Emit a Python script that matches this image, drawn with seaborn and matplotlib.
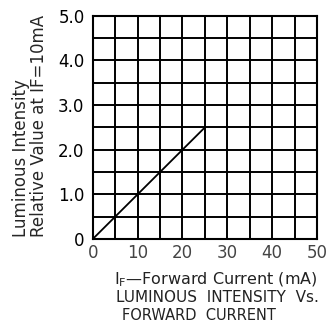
import matplotlib
matplotlib.use("Agg")
import matplotlib.pyplot as plt
import seaborn as sns
import pandas as pd
import numpy as np

# Data
current_ma = [0, 25]
rel_intensity = [0.0, 2.5]
x_ticks = [0, 10, 20, 30, 40, 50]
x_tick_labels = ["0", "10", "20", "30", "40", "50"]
y_ticks = [0, 1, 2, 3, 4, 5]
y_tick_labels = ["0", "1.0", "2.0", "3.0", "4.0", "5.0"]

df = pd.DataFrame({"current": current_ma, "intensity": rel_intensity})

sns.set_style("white")
plt.rcParams['font.family'] = ['DejaVu Sans']

fig = plt.figure(figsize=(3.34, 3.30), dpi=100)
ax = fig.add_axes([0.278, 0.276, 0.671, 0.676])

sns.lineplot(data=df, x="current", y="intensity", ax=ax, color="black", linewidth=1.3)

ax.set_xlim(0, 50)
ax.set_ylim(0, 5)
ax.set_xticks(x_ticks)
ax.set_xticklabels(x_tick_labels)
ax.set_yticks(y_ticks)
ax.set_yticklabels(y_tick_labels)
ax.set_xticks(np.arange(5, 50, 10), minor=True)
ax.set_yticks(np.arange(0.5, 5, 1.0), minor=True)
ax.grid(True, which="both", color="black", linewidth=1.4)
ax.set_axisbelow(True)
ax.tick_params(axis="both", which="both", length=0)
ax.tick_params(axis="x", pad=4, labelsize=12, labelcolor="#444444")
ax.tick_params(axis="y", pad=6, labelsize=12, labelcolor="black")
for s in ax.spines.values():
    s.set_visible(True)
    s.set_color("black")
    s.set_linewidth(1.5)

ax.set_xlabel("")
ax.set_ylabel("")

fig.text(0.09, 0.282, "Luminous Intensity\nRelative Value at IF=10mA",
         rotation=90, ha="center", va="bottom", multialignment="left",
         fontsize=12, linespacing=1.05)

fig.text(0.645, 0.152, r"I$_\mathregular{F}$—Forward Current (mA)",
         ha="center", va="center", fontsize=11.5, color="#222222")
fig.text(0.65, 0.097, "LUMINOUS  INTENSITY  Vs.",
         ha="center", va="center", fontsize=11, color="#222222")
fig.text(0.595, 0.043, "FORWARD  CURRENT",
         ha="center", va="center", fontsize=10.5, color="#222222")

fig.savefig("out.png", dpi=100)
